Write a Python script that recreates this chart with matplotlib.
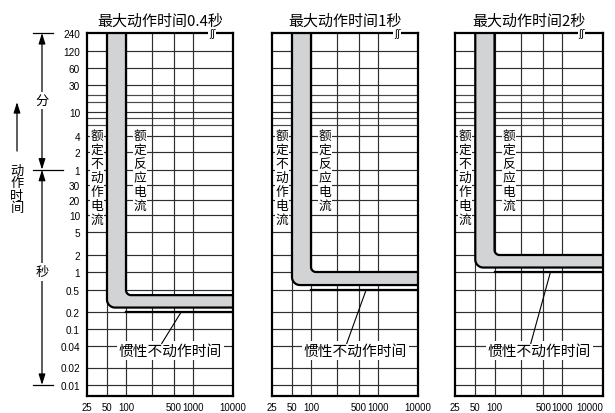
import numpy as np
import matplotlib
matplotlib.use('Agg')
import matplotlib.pyplot as plt
from matplotlib.transforms import blended_transform_factory
from matplotlib.ticker import NullLocator

plt.rcParams['font.family'] = ['Liberation Sans', 'Noto Sans CJK SC', 'DejaVu Sans']
CJK = ['Noto Sans CJK SC', 'DejaVu Sans']

# ---------------- data ----------------
titles = ['最大动作时间0.4秒', '最大动作时间1秒', '最大动作时间2秒']
max_time_s = [0.4, 1.0, 2.0]          # 额定反应电流 curve level (s)
lower_time_s = [0.24, 0.6, 1.2]       # 额定不动作电流 curve level (s)
inertial_time_s = [0.2, 0.5, 1.0]     # 惯性不动作时间 (s)
no_trip_current = 50                  # mA
trip_current = 100                    # mA

x_tick_values = [25, 50, 100, 200, 500, 1000, 10000]
x_tick_labels = ['25', '50', '100', '', '500', '1000', '10000']
y_tick_values_s = [14400, 7200, 3600, 1800, 600, 240, 120, 60, 30, 20, 10, 5,
                   2, 1, 0.5, 0.2, 0.1, 0.04, 0.02, 0.01]
y_tick_labels = ['240', '120', '60', '30', '10', '4', '2', '1', '30', '20', '10', '5',
                 '2', '1', '0.5', '0.2', '0.1', '0.04', '0.02', '0.01']
y_minor_values_s = [1200, 900, 480, 360]

# ---------------- layout of the schematic scales ----------------
x_layout = [0, 20, 39, 65, 87, 106, 146]
y_layout = [34, 51.7, 69.3, 85.5, 113.3, 136.7, 153, 170.7, 186, 200.7, 216, 233,
            256, 273, 290.7, 313, 330.3, 347, 368.5, 386]


def make_scale(values, positions):
    lv = np.log10(np.asarray(values, float))
    ps = np.asarray(positions, float)
    order = np.argsort(lv)
    lv, ps = lv[order], ps[order]
    s_lo = (ps[1] - ps[0]) / (lv[1] - lv[0])
    s_hi = (ps[-1] - ps[-2]) / (lv[-1] - lv[-2])

    def fwd(v):
        v = np.log10(np.clip(np.asarray(v, float), 1e-12, None))
        out = np.interp(v, lv, ps)
        out = np.where(v < lv[0], ps[0] + (v - lv[0]) * s_lo, out)
        out = np.where(v > lv[-1], ps[-1] + (v - lv[-1]) * s_hi, out)
        return out

    def inv(p):
        p = np.asarray(p, float)
        if ps[0] < ps[-1]:
            out = np.interp(p, ps, lv)
        else:
            out = np.interp(p, ps[::-1], lv[::-1])
        out = np.where((p - ps[0]) * np.sign(ps[-1] - ps[0]) < 0, lv[0] + (p - ps[0]) / s_lo, out)
        out = np.where((p - ps[-1]) * np.sign(ps[-1] - ps[0]) > 0, lv[-1] + (p - ps[-1]) / s_hi, out)
        return 10 ** out

    return fwd, inv


fx, fx_inv = make_scale(x_tick_values, x_layout)
fy, fy_inv = make_scale(y_tick_values_s, [-p for p in y_layout])

Y_TOP = y_tick_values_s[0]
Y_BOT = float(fy_inv(-397.0))
X_LEFT, X_RIGHT = x_tick_values[0], x_tick_values[-1]


def corner_curve(xc, yl, r):
    """vertical line at current xc from top, rounded corner, horizontal at time yl"""
    X0, Yt, Yl, Xr = fx(xc), fy(Y_TOP), fy(yl), fx(X_RIGHT)
    th = np.linspace(np.pi, 1.5 * np.pi, 20)
    cx, cy = X0 + r, Yl + r
    X = np.concatenate([[X0], cx + r * np.cos(th), [Xr]])
    Y = np.concatenate([[Yt], cy + r * np.sin(th), [Yl]])
    return fx_inv(X), fy_inv(Y)


W, H = 615, 414
fig = plt.figure(figsize=(W / 100, H / 100), dpi=100)
panel_lefts = [87, 272, 455]
panel_widths = [146, 146, 148]
top_px, bot_px = 34, 397

axes = []
for i in range(3):
    ax = fig.add_axes([panel_lefts[i] / W, (H - bot_px) / H,
                       panel_widths[i] / W, (bot_px - top_px) / H])
    ax.set_xscale('function', functions=(fx, fx_inv))
    ax.set_yscale('function', functions=(fy, fy_inv))
    ax.set_xlim(X_LEFT, X_RIGHT)
    ax.set_ylim(Y_BOT, Y_TOP)
    axes.append(ax)

    gc = '#2e2e2e'
    for v in y_tick_values_s[1:]:
        ax.axhline(v, color=gc, lw=0.85, zorder=1)
    for v in y_minor_values_s:
        ax.axhline(v, color='#4a4a4a', lw=0.85, zorder=1)
    for v in x_tick_values[1:-1]:
        ax.axvline(v, color=gc, lw=0.85, zorder=1)

    # band between the two characteristic curves
    xo, yo = corner_curve(no_trip_current, lower_time_s[i], 8)
    xi, yi = corner_curve(trip_current, max_time_s[i], 5)
    ax.fill(np.concatenate([xo, xi[::-1]]), np.concatenate([yo, yi[::-1]]),
            color='#d2d3d5', lw=0, zorder=2)
    ax.plot(xo, yo, color='black', lw=1.6, zorder=4, solid_capstyle='butt')
    ax.plot(xi, yi, color='black', lw=1.6, zorder=4, solid_capstyle='butt')
    # inertial non-operating time
    ax.plot([trip_current, X_RIGHT], [inertial_time_s[i]] * 2, color='black', lw=1.6, zorder=4)

    # labels
    ax.text(35, 310, '\n'.join('额定不动作电流'), ha='center', va='top', fontsize=9.2,
            family=CJK, linespacing=1.1, zorder=5,
            bbox=dict(facecolor='white', edgecolor='none', pad=0.4))
    ax.text(145, 310, '\n'.join('额定反应电流'), ha='center', va='top', fontsize=9.2,
            family=CJK, linespacing=1.1, zorder=5,
            bbox=dict(facecolor='white', edgecolor='none', pad=0.4))
    ax.text(430, 0.0346, '惯性不动作时间', ha='center', va='center', fontsize=10.6,
            family=CJK, zorder=5,
            bbox=dict(facecolor='white', edgecolor='none', pad=1.5))
    ax.plot([300, 650], [0.046, inertial_time_s[i]], color='black', lw=0.8, zorder=6)

    # break mark on top frame
    ax.text(3000, Y_TOP, 'ʃʃ', ha='center', va='center', fontsize=7,
            family=['DejaVu Sans'], zorder=6, clip_on=False,
            bbox=dict(facecolor='white', edgecolor='none', pad=0.3))

    ax.set_title(titles[i], fontsize=10.8, family=CJK, pad=6)
    for s in ax.spines.values():
        s.set_linewidth(1.6)
        s.set_zorder(5)
    ax.set_xticks(x_tick_values, x_tick_labels)
    ax.xaxis.set_minor_locator(NullLocator())
    ax.yaxis.set_minor_locator(NullLocator())
    ax.tick_params(axis='x', length=0, pad=4, labelsize=6.9)
    if i == 0:
        ax.set_yticks(y_tick_values_s, y_tick_labels)
        ax.tick_params(axis='y', length=0, pad=5, labelsize=7.2)
    else:
        ax.set_yticks([])
    if i == 2:
        ax.get_xticklabels()[-1].set_horizontalalignment('right')

# ---------------- left annotations ----------------
ax1 = axes[0]
tr = blended_transform_factory(fig.transFigure, ax1.transData)
xa = 42 / W
for y, x0, x1 in [(Y_TOP, 33, 53), (60, 33, 63), (0.01, 33, 53)]:
    ax1.plot([x0 / W, x1 / W], [y, y], color='black', lw=0.9, transform=tr, clip_on=False)
ap = dict(arrowstyle='<|-|>,head_length=0.8,head_width=0.25', color='black', lw=0.9,
          shrinkA=0, shrinkB=0, mutation_scale=8)
ax1.annotate('', xy=(xa, Y_TOP), xytext=(xa, 60), xycoords=tr, textcoords=tr,
             arrowprops=ap, annotation_clip=False)
ax1.annotate('', xy=(xa, 60), xytext=(xa, 0.01), xycoords=tr, textcoords=tr,
             arrowprops=ap, annotation_clip=False)
ax1.text(xa, 950, '分', transform=tr, ha='center', va='center', fontsize=9.5, family=CJK,
         bbox=dict(facecolor='white', edgecolor='none', pad=1.5), zorder=6)
ax1.text(xa, 1.0, '秒', transform=tr, ha='center', va='center', fontsize=9.5, family=CJK,
         bbox=dict(facecolor='white', edgecolor='none', pad=1.5), zorder=6)
xb = 17 / W
ax1.annotate('', xy=(xb, 900), xytext=(xb, 125), xycoords=tr, textcoords=tr,
             arrowprops=dict(arrowstyle='-|>,head_length=0.8,head_width=0.25', color='black',
                             lw=0.9, shrinkA=0, shrinkB=0, mutation_scale=8),
             annotation_clip=False)
ax1.text(xb, 27, '\n'.join('动作时间'), transform=tr, ha='center', va='center',
         fontsize=9.5, family=CJK, linespacing=0.95)

fig.savefig('out.png', dpi=100, facecolor='white')
